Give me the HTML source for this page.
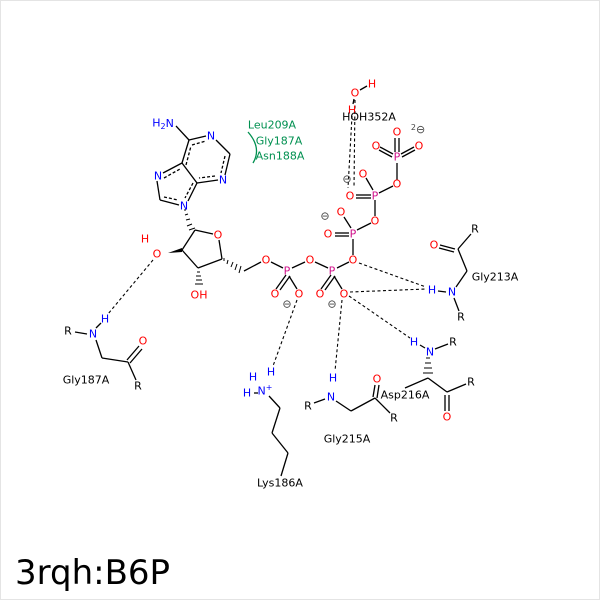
<!DOCTYPE html>
<html><head><meta charset="utf-8"><style>
html,body{margin:0;padding:0;background:#fff}
svg{display:block}
text{font-family:"DejaVu Sans","Liberation Sans",sans-serif;font-size:11px;text-anchor:middle;dominant-baseline:central}
.r{fill:#f00}.b{fill:#00f}.p{fill:#d0108a}.k{fill:#000}.g{fill:#009050}.m{fill:#444}
</style></head><body>
<svg width="600" height="600" viewBox="0 0 600 600">
<rect x="0.5" y="0.5" width="599" height="599" fill="#fff" stroke="#e4e4e4"/>
<g stroke="#000" stroke-width="1.3" fill="none">
<line x1="176" y1="126" x2="189" y2="140"/>
<line x1="189" y1="140" x2="206" y2="136"/>
<line x1="216" y1="140" x2="230" y2="154"/>
<line x1="230" y1="154" x2="225" y2="175"/>
<line x1="218" y1="180" x2="197" y2="183"/>
<line x1="197" y1="183" x2="182" y2="163"/>
<line x1="182" y1="163" x2="189" y2="140"/>
<line x1="182" y1="163" x2="163" y2="173"/>
<line x1="157" y1="181" x2="160" y2="200"/>
<line x1="160" y1="200" x2="179" y2="205"/>
<line x1="188" y1="201" x2="197" y2="183"/>
<g stroke-dasharray="3,2">
<line x1="192" y1="145" x2="206" y2="141"/>
<line x1="225" y1="156" x2="221" y2="173"/>
<line x1="215" y1="176" x2="199" y2="178"/>
<line x1="186" y1="165" x2="191" y2="146"/>
<line x1="164" y1="178" x2="180" y2="169"/>
<line x1="164" y1="197" x2="178" y2="200"/>
<line x1="193" y1="183" x2="185" y2="198"/>
</g>
<line x1="195" y1="230" x2="213" y2="234"/>
<line x1="219" y1="240" x2="222" y2="259"/>
<line x1="222" y1="259" x2="198" y2="268"/>
<line x1="198" y1="268" x2="182" y2="250"/>
<line x1="182" y1="250" x2="195" y2="230"/>
<line x1="244" y1="271" x2="261" y2="262"/>
<line x1="271" y1="262" x2="283" y2="268"/>
<line x1="292" y1="268" x2="305" y2="262"/>
<line x1="315" y1="262" x2="328" y2="268"/>
<line x1="337" y1="268" x2="349" y2="262"/>
<line x1="286" y1="275" x2="276" y2="289"/><line x1="290" y1="276" x2="280" y2="290"/>
<line x1="289" y1="276" x2="297" y2="289"/>
<line x1="331" y1="275" x2="321" y2="289"/><line x1="335" y1="276" x2="325" y2="290"/>
<line x1="334" y1="276" x2="342" y2="289"/>
<line x1="353" y1="255" x2="353" y2="239"/>
<line x1="349" y1="233" x2="335" y2="233"/><line x1="349" y1="236" x2="335" y2="236"/>
<line x1="351" y1="228" x2="344" y2="217"/>
<line x1="357" y1="230" x2="371" y2="223"/>
<line x1="375" y1="216" x2="375" y2="200"/>
<line x1="371" y1="195" x2="356" y2="195"/><line x1="371" y1="198" x2="356" y2="198"/>
<line x1="373" y1="190" x2="366" y2="178"/>
<line x1="379" y1="193" x2="393" y2="186"/>
<line x1="397" y1="180" x2="397" y2="163"/>
<line x1="393" y1="154" x2="380" y2="147"/><line x1="392" y1="157" x2="379" y2="150"/>
<line x1="401" y1="154" x2="414" y2="147"/><line x1="402" y1="157" x2="415" y2="150"/>
<line x1="395" y1="152" x2="395" y2="138"/><line x1="399" y1="152" x2="399" y2="138"/>
<line x1="360" y1="90" x2="367" y2="86"/>
<line x1="354" y1="99" x2="353" y2="104"/>
<line x1="438" y1="291" x2="446" y2="292"/>
<line x1="456" y1="287" x2="467" y2="271"/>
<line x1="467" y1="271" x2="458" y2="249"/>
<line x1="458" y1="249" x2="471" y2="234"/>
<line x1="455" y1="249" x2="440" y2="245"/><line x1="454" y1="252" x2="439" y2="248"/>
<line x1="454" y1="298" x2="459" y2="311"/>
<line x1="435" y1="349" x2="448" y2="344"/>
<line x1="420" y1="345" x2="425" y2="348"/>
<line x1="428" y1="378" x2="405" y2="388"/>
<line x1="428" y1="378" x2="447" y2="392"/>
<line x1="447" y1="392" x2="466" y2="384"/>
<line x1="445" y1="395" x2="445" y2="411"/><line x1="449" y1="395" x2="449" y2="411"/>
<line x1="314" y1="403" x2="325" y2="399"/>
<line x1="336" y1="401" x2="351" y2="411"/>
<line x1="351" y1="411" x2="375" y2="398"/>
<line x1="375" y1="398" x2="390" y2="413"/>
<line x1="373" y1="397" x2="375" y2="385"/><line x1="377" y1="398" x2="379" y2="385"/>
<line x1="269" y1="396" x2="280" y2="408"/>
<line x1="280" y1="408" x2="272" y2="433"/>
<line x1="272" y1="433" x2="288" y2="453"/>
<line x1="288" y1="453" x2="281" y2="476"/>
<line x1="254" y1="393" x2="258" y2="393"/>
<line x1="75" y1="332" x2="87" y2="334"/>
<line x1="96" y1="340" x2="102" y2="358"/>
<line x1="102" y1="358" x2="128" y2="362"/>
<line x1="128" y1="362" x2="136" y2="380"/>
<line x1="127" y1="360" x2="139" y2="346"/><line x1="130" y1="363" x2="142" y2="349"/>
<line x1="96" y1="328" x2="101" y2="323"/>
</g>
<polygon points="168,253 182,248 182,252" fill="#000"/>
<g stroke="#000" stroke-width="1">
<line x1="186" y1="210" x2="184" y2="210"/><line x1="188" y1="214" x2="185" y2="215"/><line x1="190" y1="219" x2="186" y2="220"/><line x1="192" y1="224" x2="187" y2="226"/><line x1="195" y1="228" x2="189" y2="230"/>
<line x1="224" y1="258" x2="224" y2="261"/><line x1="228" y1="260" x2="227" y2="264"/><line x1="233" y1="262" x2="231" y2="267"/><line x1="237" y1="264" x2="235" y2="270"/><line x1="241" y1="266" x2="239" y2="273"/>
<line x1="197" y1="272" x2="200" y2="272"/><line x1="196" y1="276" x2="201" y2="276"/><line x1="196" y1="280" x2="202" y2="280"/><line x1="195" y1="284" x2="203" y2="284"/>
<line x1="426" y1="358" x2="430" y2="358"/><line x1="425" y1="363" x2="431" y2="363"/><line x1="424" y1="368" x2="432" y2="368"/><line x1="423" y1="373" x2="433" y2="373"/>
</g>
<g stroke="#000" stroke-width="1.1" stroke-dasharray="3,2.5" fill="none">
<line x1="153" y1="260" x2="108" y2="314"/>
<line x1="297" y1="300" x2="273" y2="366"/>
<line x1="342" y1="300" x2="335" y2="371"/>
<line x1="349" y1="296" x2="410" y2="338"/>
<line x1="350" y1="292" x2="426" y2="289"/>
<line x1="359" y1="263" x2="426" y2="287"/>
<line x1="355" y1="100" x2="354" y2="188"/>
<line x1="352" y1="116" x2="348" y2="188"/>
</g>
<path d="M248,132 Q262,148 253,163" stroke="#009050" stroke-width="1.3" fill="none"/>
<text x="163" y="123" class="b">H<tspan font-size="8" dy="3">2</tspan><tspan dy="-3">N</tspan></text>
<text x="211" y="136" class="b">N</text>
<text x="223" y="180" class="b">N</text>
<text x="158" y="176" class="b">N</text>
<text x="184" y="206" class="b">N</text>
<text x="218" y="235" class="r">O</text>
<text x="157" y="254" class="r">O</text>
<text x="145" y="239" class="r">H</text>
<text x="199" y="295" class="r">OH</text>
<text x="266" y="260" class="r">O</text>
<text x="287" y="271" class="p">P</text>
<text x="310" y="260" class="r">O</text>
<text x="332" y="271" class="p">P</text>
<text x="353" y="260" class="r">O</text>
<text x="275" y="294" class="r">O</text>
<text x="299" y="294" class="r">O</text>
<text x="320" y="294" class="r">O</text>
<text x="344" y="294" class="r">O</text>
<text x="287" y="304" class="m">⊖</text>
<text x="332" y="304" class="m">⊖</text>
<text x="353" y="234" class="p">P</text>
<text x="328" y="234" class="r">O</text>
<text x="341" y="212" class="r">O</text>
<text x="325" y="216" class="m">⊖</text>
<text x="375" y="221" class="r">O</text>
<text x="375" y="196" class="p">P</text>
<text x="350" y="196" class="r">O</text>
<text x="363" y="174" class="r">O</text>
<text x="347" y="179" class="m">⊖</text>
<text x="397" y="184" class="r">O</text>
<text x="397" y="157" class="p">P</text>
<text x="376" y="146" class="r">O</text>
<text x="419" y="146" class="r">O</text>
<text x="397" y="132" class="r">O</text>
<text x="418" y="129" class="m"><tspan font-size="8" dy="-2">2</tspan><tspan dy="2">⊖</tspan></text>
<text x="355" y="93" class="r">O</text>
<text x="372" y="84" class="r">H</text>
<text x="352" y="110" class="r">H</text>
<text x="369" y="117" class="k">HOH352A</text>
<text x="272" y="125" class="g">Leu209A</text>
<text x="279" y="141" class="g">Gly187A</text>
<text x="280" y="156" class="g">Asn188A</text>
<text x="432" y="290" class="b">H</text>
<text x="452" y="292" class="b">N</text>
<text x="434" y="245" class="r">O</text>
<text x="475" y="229" class="k">R</text>
<text x="461" y="317" class="k">R</text>
<text x="495" y="277" class="k">Gly213A</text>
<text x="414" y="342" class="b">H</text>
<text x="430" y="352" class="b">N</text>
<text x="453" y="342" class="k">R</text>
<text x="447" y="417" class="r">O</text>
<text x="471" y="382" class="k">R</text>
<text x="405" y="395" class="k">Asp216A</text>
<text x="333" y="378" class="b">H</text>
<text x="331" y="397" class="b">N</text>
<text x="308" y="406" class="k">R</text>
<text x="377" y="379" class="r">O</text>
<text x="394" y="418" class="k">R</text>
<text x="347" y="439" class="k">Gly215A</text>
<text x="253" y="377" class="b">H</text>
<text x="271" y="372" class="b">H</text>
<text x="247" y="393" class="b">H</text>
<text x="265" y="391" class="b">N<tspan font-size="8" dy="-4">+</tspan></text>
<text x="280" y="483" class="k">Lys186A</text>
<text x="68" y="331" class="k">R</text>
<text x="93" y="334" class="b">N</text>
<text x="105" y="319" class="b">H</text>
<text x="143" y="341" class="r">O</text>
<text x="138" y="386" class="k">R</text>
<text x="86" y="380" class="k">Gly187A</text>
<text x="15" y="573" style="font-size:34px;text-anchor:start" class="k">3rqh:B6P</text>
</svg>
</body></html>
